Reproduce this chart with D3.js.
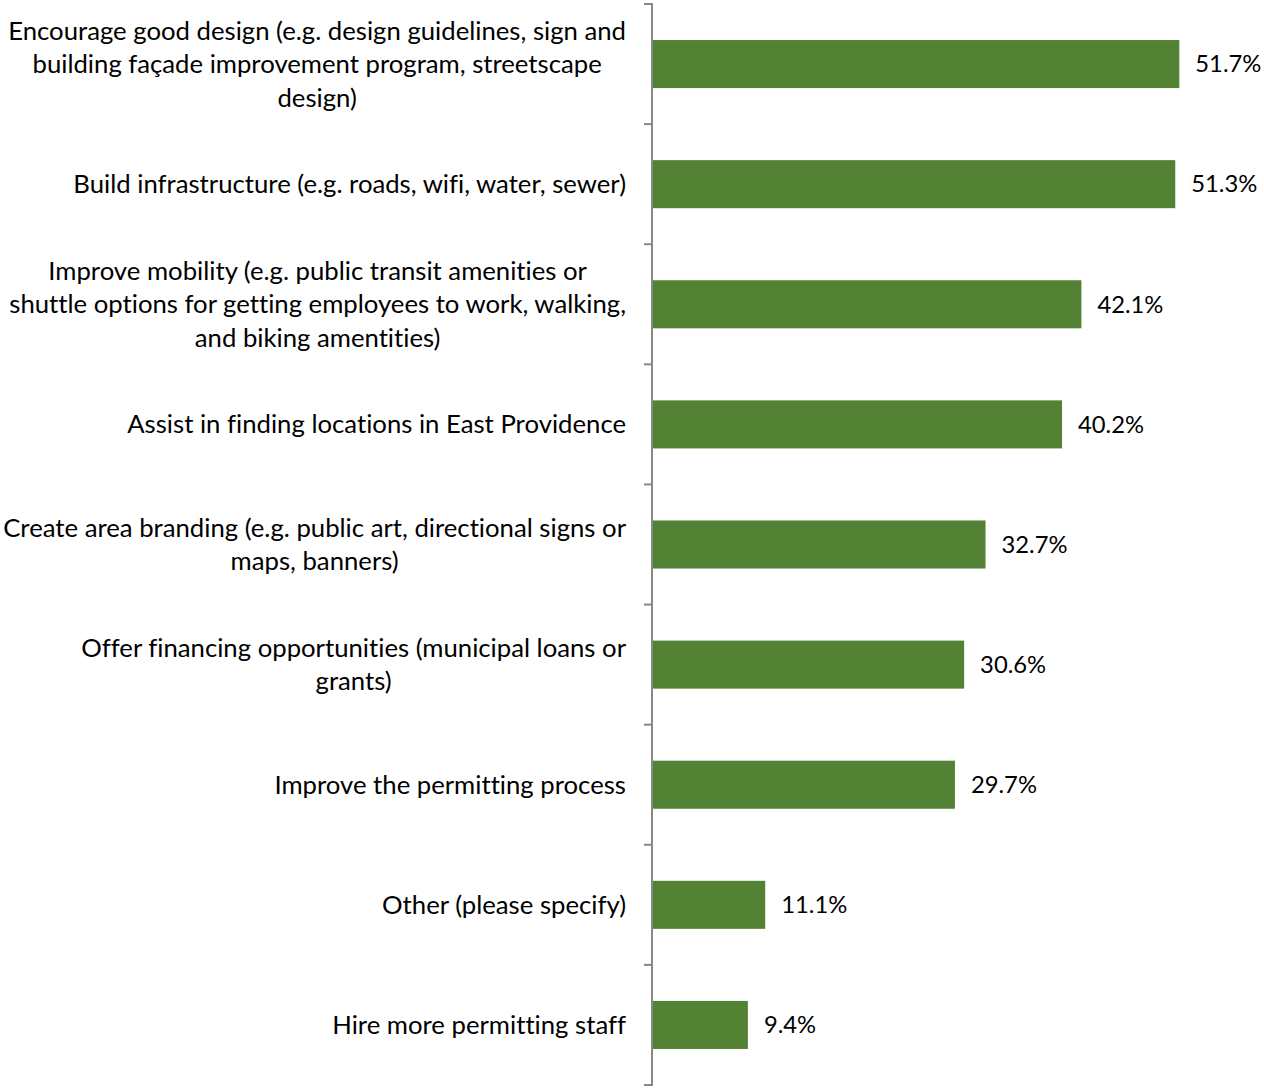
<!DOCTYPE html>
<html><head><meta charset="utf-8">
<script src="https://cdn.jsdelivr.net/npm/d3@7/dist/d3.min.js"></script>
<style>body{margin:0;background:#fff}svg{display:block}text{font-variant-ligatures:none}</style>
</head><body>
<svg id="c" width="1264" height="1088"></svg>
<script>
const categories = [
  ["Encourage good design (e.g. design guidelines, sign and", "building façade improvement program, streetscape", "design)"],
  ["Build infrastructure (e.g. roads, wifi, water, sewer)"],
  ["Improve mobility (e.g. public transit amenities or", "shuttle options for getting employees to work, walking,", "and biking amentities)"],
  ["Assist in finding locations in East Providence"],
  ["Create area branding (e.g. public art, directional signs or", "maps, banners)"],
  ["Offer financing opportunities (municipal loans or", "grants)"],
  ["Improve the permitting process"],
  ["Other (please specify)"],
  ["Hire more permitting staff"]
];
const values = [51.7, 51.3, 42.1, 40.2, 32.7, 30.6, 29.7, 11.1, 9.4];
const valueLabels = ["51.7%", "51.3%", "42.1%", "40.2%", "32.7%", "30.6%", "29.7%", "11.1%", "9.4%"];

(function(){
const svg = d3.select("#c");
const x0 = 652, yTop = 4, yBot = 1085, labRight = 626;
const idx = d3.range(values.length);
const x = d3.scaleLinear().domain([0, 60]).range([x0, 1264]);
const y = d3.scaleBand().domain(idx).range([yTop, yBot]).paddingInner(0.6).paddingOuter(0.3);
const yb = d3.scaleBand().domain(idx).range([yTop, yBot]);

const font = "Lato, sans-serif";
let fs = 24;

// bars
svg.append("g").selectAll("rect").data(idx).join("rect")
  .attr("x", x(0) + 1).attr("y", i => y(i))
  .attr("width", i => x(values[i]) - x(0) - 1).attr("height", y.bandwidth())
  .attr("fill", "#548235");

// axis
const axis = d3.axisLeft(yb).tickSize(0).tickFormat("");
const g = svg.append("g").attr("transform", `translate(${x0},0)`).call(axis);
g.selectAll(".tick").remove();
g.select(".domain").attr("stroke", "#888").attr("stroke-width", 2)
  .attr("d", `M-8,${yTop}H0V${yBot}H-8`).attr("fill","none");
g.selectAll("line.b").data(d3.range(1, values.length)).join("line").attr("class","b")
  .attr("x1", -8).attr("x2", 0)
  .attr("y1", i => yTop + i * yb.step()).attr("y2", i => yTop + i * yb.step())
  .attr("stroke", "#888").attr("stroke-width", 2);

// category labels
const labG = svg.append("g").attr("font-family", font).attr("fill", "#000");
const lh = 33.5;
const texts = labG.selectAll("text").data(idx).join("text")
  .attr("text-anchor", "middle").attr("font-size", fs);
texts.each(function(i){
  const lines = categories[i];
  const cy = yb(i) + yb.bandwidth()/2;
  const n = lines.length;
  d3.select(this).selectAll("tspan").data(lines).join("tspan")
    .attr("y", (d, k) => cy + (k - (n-1)/2) * lh)
    .attr("dy", "0.35em")
    .text(d => d);
});
const w = texts.filter(i => i === 0).select("tspan").node().getComputedTextLength();
fs = fs * 618 / w;
texts.attr("font-size", fs);
texts.each(function(){
  const sp = d3.select(this).selectAll("tspan");
  let mw = 0;
  sp.each(function(){ mw = Math.max(mw, this.getComputedTextLength()); });
  sp.attr("x", labRight - mw / 2);
});

// value labels
const vals = svg.append("g").attr("font-family", font).selectAll("text").data(idx).join("text")
  .attr("x", i => x(values[i]) + 16)
  .attr("y", i => y(i) + y.bandwidth()/2)
  .attr("dy", "0.35em").attr("font-size", fs).attr("fill", "#000")
  .text(i => valueLabels[i]);
const vw = vals.filter(i => i === 0).node().getComputedTextLength();
vals.attr("font-size", fs * Math.min(1, 66 / vw));
})();
</script>
</body></html>
